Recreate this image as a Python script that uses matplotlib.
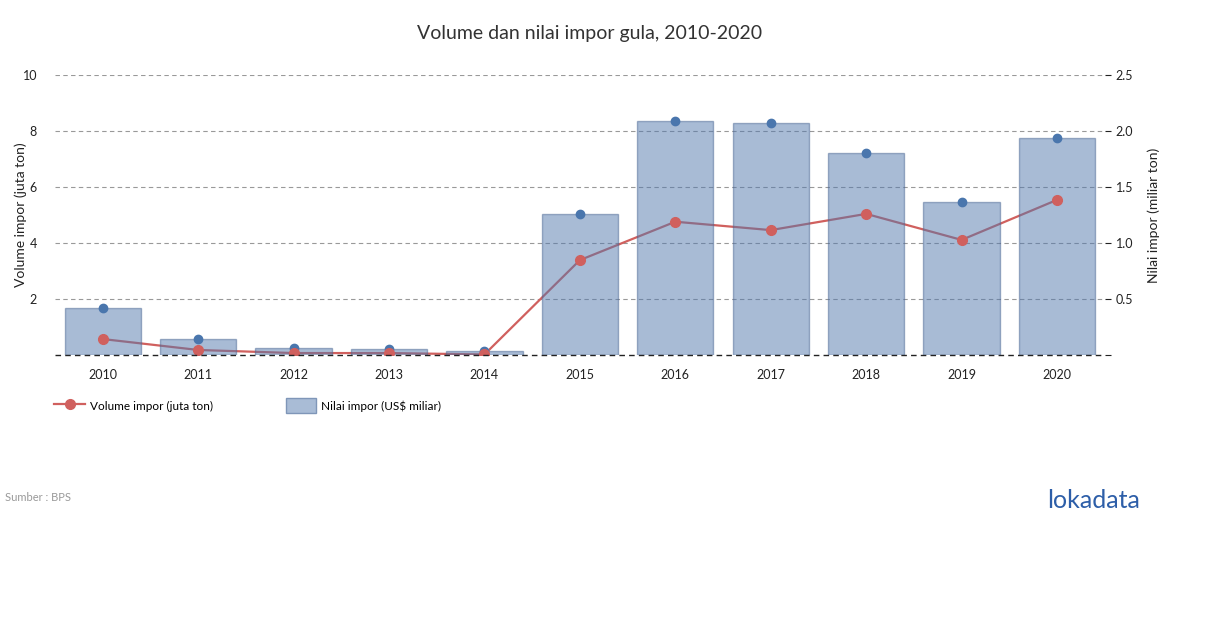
import matplotlib
matplotlib.use("Agg")
import matplotlib.pyplot as plt
from matplotlib.lines import Line2D
from matplotlib.patches import Patch
import numpy as np

plt.rcParams['font.family'] = ['Lato', 'DejaVu Sans']

# Data
years = ['2010', '2011', '2012', '2013', '2014', '2015', '2016', '2017', '2018', '2019', '2020']
volume = [0.57, 0.18, 0.07, 0.07, 0.02, 3.39, 4.76, 4.46, 5.04, 4.11, 5.54]   # juta ton
nilai = [0.42, 0.14, 0.06, 0.05, 0.04, 1.26, 2.09, 2.07, 1.80, 1.37, 1.94]    # US$ miliar

left_ticks = [0, 2, 4, 6, 8, 10]
left_labels = ['', '2', '4', '6', '8', '10']
right_ticks = [0, 0.5, 1.0, 1.5, 2.0, 2.5]
right_labels = ['', '0.5', '1.0', '1.5', '2.0', '2.5']

red = '#d0605e'
blue = '#5379ad'

fig = plt.figure(figsize=(12.1, 6.28), dpi=100)
ax = fig.add_axes([0.0455, 0.4347, 0.8675, 0.4459])
x = np.arange(len(years))

# line on left axis (drawn below the bars)
ax.plot(x, volume, color=red, lw=1.6, zorder=2)
ax.set_ylim(0, 10)
ax.set_xlim(-0.5, len(years) - 0.5)
ax.set_yticks(left_ticks)
ax.set_yticklabels(left_labels)
ax.set_xticks(x)
ax.set_xticklabels(years)
ax.tick_params(axis='y', length=0, labelsize=9, colors='#222222', pad=13)
ax.tick_params(axis='x', length=0, labelsize=9, colors='#222222', pad=10)
for t in left_ticks[1:]:
    ax.axhline(t, color='#999999', lw=0.8, ls=(0, (4, 3)), zorder=0)
for s in ax.spines.values():
    s.set_visible(False)
ax.set_ylabel('Volume impor (juta ton)', fontsize=10, color='#222222')
ax.yaxis.set_label_coords(-0.027, 0.5)

# bars on right axis
ax2 = ax.twinx()
ax2.bar(x, nilai, width=0.8, color=blue, alpha=0.5, edgecolor=(0.29, 0.40, 0.58, 0.5), lw=1, zorder=3)
ax2.plot(x, nilai, ls='none', marker='o', ms=6, color='#4a76ad', zorder=4)
# red markers of the volume series, drawn on top of the bars
ax2.plot(x, np.array(volume) / 4.0, ls='none', marker='o', ms=7, color=red, zorder=4)
ax2.axhline(0, color='#222222', lw=1.0, ls=(0, (4, 3)), zorder=5, clip_on=False)
ax2.set_ylim(0, 2.5)
ax2.set_yticks(right_ticks)
ax2.set_yticklabels(right_labels)
ax2.tick_params(axis='y', length=4, width=0.8, color='#888888', labelsize=9, colors='#222222', pad=4)
ax2.tick_params(axis='y', colors='#222222')
for s in ax2.spines.values():
    s.set_visible(False)
ax2.set_ylabel('Nilai impor (miliar ton)', fontsize=10, color='#222222', labelpad=10)

fig.text(0.4876, 0.947, 'Volume dan nilai impor gula, 2010-2020', ha='center', va='center',
         fontsize=14, color='#333333')

handles = [Line2D([0], [0], color=red, lw=1.6, marker='o', ms=7),
           Patch(facecolor='#a9bcd6', edgecolor='#7f96b8')]
leg = fig.legend(handles, ['Volume impor (juta ton)', 'Nilai impor (US$ miliar)'],
                 loc='center left', bbox_to_anchor=(0.036, 0.354), ncol=2, frameon=False,
                 fontsize=8.5, handlelength=2.6, handleheight=1.6, columnspacing=6.2,
                 handletextpad=0.4)

fig.text(0.004, 0.208, 'Sumber : BPS', fontsize=8, color='#999999', va='center')
fig.text(0.942, 0.203, 'lokadata', fontsize=18, color='#2d5ea8', ha='right', va='center')

fig.savefig('out.png', dpi=100)
